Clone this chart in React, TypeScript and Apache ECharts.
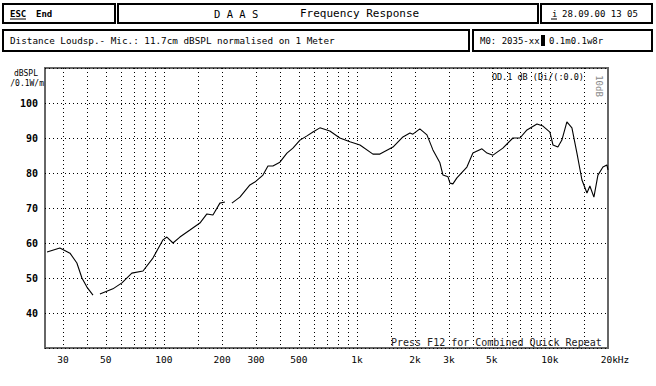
import React, { useEffect, useRef } from "react";
import * as echarts from "echarts";

// Frequency response (Hz, dB SPL). null = gap in the trace
const freqs: number[] = [
  24.8, 28.9, 32.6, 35.4, 37.6, 39.9, 42.9, 44.5,
  46.6, 54.4, 60.6, 68.2, 77.9, 87.7, 98.9, 103.6, 111.4, 121, 136.4, 153.6, 167, 179.5, 195, 207, 215,
  225, 247.6, 279, 296, 326, 346, 367, 399, 434, 466, 507, 551, 592, 643, 724, 816, 920, 1037, 1211, 1316,
  1538, 1731, 1883, 1950, 2119, 2306, 2477, 2692, 2792, 2965, 3035, 3143, 3297, 3715, 3990, 4446, 4721,
  5070, 5705, 6428, 6998, 7604, 8570, 9204, 10000, 10375, 11000, 11535, 12246, 13005, 13806, 14657,
  15560, 16110, 16904, 17736, 18829, 19730, 20000,
];
const splValues: (number | null)[] = [
  57.4, 58.6, 57.1, 54.3, 50, 47.4, 45.1, null,
  45.4, 46.9, 48.6, 51.4, 52, 55.7, 60.9, 61.7, 60, 61.7, 63.7, 65.7, 68.3, 68, 71.4, 71.7, null,
  71.4, 73.1, 76.6, 77.4, 79.4, 82, 82, 83.1, 85.7, 87.1, 89.4, 90.6, 91.7, 92.9, 92, 90, 88.9, 88, 85.4, 85.4,
  87.4, 90.3, 91.4, 91.1, 92.6, 90.9, 86.6, 82.9, 79.4, 78.9, 77.1, 76.9, 78.6, 81.7, 85.7, 86.9, 85.7,
  85.1, 87.1, 90, 90, 92.3, 94, 93.4, 91.7, 88, 87.4, 89.4, 94.6, 92.9, 85.7, 78,
  74.3, 76.3, 73.1, 79.4, 81.7, 82.3, 80.9,
];

const gridFreqs: number[] = [
  30, 40, 50, 60, 70, 80, 90, 100, 150, 200, 300, 400, 500, 600, 700, 800, 900,
  1000, 1500, 2000, 3000, 4000, 5000, 6000, 7000, 8000, 9000, 10000, 15000,
];
const labelFreqs: number[] = [30, 50, 100, 200, 300, 500, 1000, 2000, 3000, 5000, 10000, 20000];
const labelTexts: string[] = ["30", "50", "100", "200", "300", "500", "1k", "2k", "3k", "5k", "10k", "20kHz"];
const yTicks: number[] = [40, 50, 60, 70, 80, 90, 100];

const FREQ_MIN = 24.2;
const FREQ_MAX = 20000;
const MONO = '"DejaVu Sans Mono", "Liberation Mono", monospace';

function box(x1: number, y1: number, x2: number, y2: number) {
  return {
    type: "rect",
    shape: { x: x1, y: y1, width: x2 - x1, height: y2 - y1 },
    style: { fill: "#fff", stroke: "#000", lineWidth: 2 },
    silent: true,
  };
}

function txt(x: number, y: number, text: string, extra: any = {}) {
  return {
    type: "text",
    x,
    y,
    style: {
      text,
      fill: "#000",
      font: `9px ${MONO}`,
      textVerticalAlign: "middle",
      ...extra,
    },
    silent: true,
  };
}

export default function App() {
  const ref = useRef<HTMLDivElement>(null);
  useEffect(() => {
    if (!ref.current) return;
    const chart = echarts.init(ref.current, null, { renderer: "svg" });
    const data = freqs.map((f, i) => [Math.log10(f), splValues[i]]);
    const labelLogs = labelFreqs.map((f) => Math.log10(f));
    chart.setOption({
      animation: false,
      backgroundColor: "#fff",
      grid: {
        left: 45,
        right: 48,
        top: 68,
        bottom: 38,
        show: true,
        borderColor: "#666",
        borderWidth: 2,
        backgroundColor: "transparent",
      },
      xAxis: {
        type: "value",
        min: Math.log10(FREQ_MIN),
        max: Math.log10(FREQ_MAX),
        axisLine: { show: false },
        axisTick: { show: false, customValues: gridFreqs.map((f) => Math.log10(f)) },
        splitLine: { show: true, lineStyle: { color: "#000", width: 1, type: [1, 3] } },
        axisLabel: {
          customValues: labelLogs,
          margin: 6,
          fontFamily: MONO,
          fontSize: 9.5,
          color: "#000",
          formatter: (v: number) => {
            let best = 0;
            let d = Infinity;
            labelLogs.forEach((l, i) => {
              const dd = Math.abs(l - v);
              if (dd < d) { d = dd; best = i; }
            });
            const t = labelTexts[best];
            return best === labelTexts.length - 1 ? `{last|${t}}` : t;
          },
          rich: { last: { padding: [0, 0, 0, 14], fontFamily: MONO, fontSize: 9.5, color: "#000" } },
        },
      },
      yAxis: {
        type: "value",
        min: 30,
        max: 110,
        interval: 10,
        axisLine: { show: false },
        axisTick: { show: false },
        splitLine: { show: true, lineStyle: { color: "#000", width: 1, type: [1, 3] } },
        axisLabel: {
          margin: 7,
          fontFamily: MONO,
          fontSize: 10,
          fontWeight: "bold",
          color: "#000",
          formatter: (v: number) => (yTicks.includes(v) ? String(v) : ""),
        },
      },
      series: [
        {
          type: "line",
          data,
          showSymbol: false,
          connectNulls: false,
          smooth: false,
          lineStyle: { color: "#000", width: 1.1 },
          silent: true,
        },
      ],
      graphic: [
        box(3, 4, 115, 23),
        box(118, 4, 538, 23),
        box(541, 4, 652, 23),
        box(3, 30, 469, 51),
        box(473, 30, 652, 51),
        txt(10, 13.5, "ESC", { font: `bold 9px ${MONO}` }),
        { type: "line", shape: { x1: 10, y1: 19, x2: 26, y2: 19 }, style: { stroke: "#000", lineWidth: 1 }, silent: true },
        txt(36, 13.5, "End", { font: `bold 9px ${MONO}` }),
        txt(214, 13.5, "D A A S", { font: `10.5px ${MONO}` }),
        txt(300, 13.5, "Frequency Response", { font: `11px ${MONO}` }),
        txt(552, 13.5, "i", {}),
        { type: "line", shape: { x1: 551, y1: 19, x2: 557, y2: 19 }, style: { stroke: "#000", lineWidth: 1 }, silent: true },
        txt(562, 13.5, "28.09.00 13 05", {}),
        txt(10, 40.5, "Distance Loudsp.- Mic.: 11.7cm dBSPL normalised on 1 Meter", { font: `9.3px ${MONO}` }),
        txt(480, 40.5, "M0: 2035-xx", {}),
        { type: "rect", shape: { x: 541, y: 35, width: 4, height: 11 }, style: { fill: "#000" }, silent: true },
        txt(549, 40.5, "0.1m0.1w8r", {}),
        txt(38, 73, "dBSPL", { textAlign: "right", font: `8px ${MONO}` }),
        txt(44, 83, "/0.1W/m", { textAlign: "right", font: `8px ${MONO}` }),
        txt(584, 77, "OD.1 dB (Di/(:0.0)", { textAlign: "right", font: `8.5px ${MONO}` }),
        {
          type: "text",
          x: 599,
          y: 86,
          rotation: -Math.PI / 2,
          style: { text: "10dB", fill: "#888", font: `9px ${MONO}`, textAlign: "center", textVerticalAlign: "middle" },
          silent: true,
        },
        txt(391, 342, "Press F12 for Combined Quick Repeat", { font: `10px ${MONO}`, fill: "#222" }),
      ],
    });
    return () => chart.dispose();
  }, []);
  return (
    <div
      ref={ref}
      style={{ position: "absolute", left: 0, top: 0, width: 656, height: 386 }}
    />
  );
}
